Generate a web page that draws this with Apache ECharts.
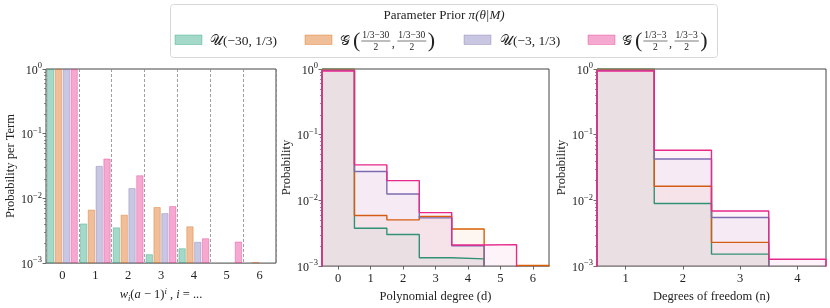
<!DOCTYPE html>
<html><head><meta charset="utf-8">
<script src="https://cdn.jsdelivr.net/npm/echarts@6/dist/echarts.min.js"></script>
<style>html,body{margin:0;padding:0;background:#fff}#c{width:830px;height:308px}</style>
</head><body><div id="c"></div>
<script>
// ---------- data ----------
const termCats = ['0', '1', '2', '3', '4', '5', '6'];
// Panel 1: probability per term (null = below 1e-3 / not shown)
const termU30 = [0.98, 0.00403, 0.00351, 0.00135, 0.00167, null, null];
const termG30 = [0.98, 0.0066, 0.0055, 0.00723, 0.00364, null, 0.00102];
const termU3  = [0.98, 0.0313, 0.0142, 0.00582, 0.0021, null, null];
const termG3  = [0.98, 0.0406, 0.0224, 0.00748, 0.00238, 0.00212, null];
// Panel 2: polynomial degree d = 0..6 (0 = empty bin)
const degValues = [0, 1, 2, 3, 4, 5, 6];
const degU30 = [0.99, 0.00376, 0.00302, 0.00134, 0.00129, 0, 0];
const degG30 = [0.985, 0.00588, 0.00506, 0.00568, 0.00367, 0, 0.00102];
const degU3  = [0.955, 0.0275, 0.0125, 0.00542, 0.00204, 0, 0];
const degG3  = [0.93, 0.0347, 0.0200, 0.00652, 0.0021, 0.00212, 0];
// Panel 3: degrees of freedom n = 1..4
const dofValues = [1, 2, 3, 4];
const dofU30 = [0.99, 0.00897, 0.00152, 0];
const dofG30 = [0.985, 0.0164, 0.0023, 0];
const dofU3  = [0.955, 0.0426, 0.0055, 0];
const dofG3  = [0.93, 0.058, 0.0069, 0.00127];
// y minor ticks
const yMinor = [0.002,0.003,0.004,0.005,0.006,0.007,0.008,0.009,0.02,0.03,0.04,0.05,0.06,0.07,0.08,0.09,0.2,0.3,0.4,0.5,0.6,0.7,0.8,0.9];
const priorLabels = ['U(-30,1/3)', 'G(30)', 'U(-3,1/3)', 'G(3)'];

// ---------- style ----------
const COLORS = ['#1b9e77', '#d95f02', '#7570b3', '#e7298a'];
const FONT = 'Liberation Serif';
const Y_MIN = 0.001, Y_MAX = 1;
const FLOOR = 1e-6; // stand-in for empty bins on the log axis (clipped)
function rgba(hex, a) {
  const n = parseInt(hex.slice(1), 16);
  return 'rgba(' + (n >> 16) + ',' + ((n >> 8) & 255) + ',' + (n & 255) + ',' + a + ')';
}
const grids = [
  { left: 46, top: 69, width: 230, height: 202 },
  { left: 322, top: 69, width: 227, height: 202 },
  { left: 597, top: 69, width: 229, height: 202 }
];
function logLabel(v) {
  const e = Math.round(Math.log10(v));
  return '{b|10}{s|' + (e < 0 ? '\u2212' + (-e) : e) + '}';
}
const yRich = {
  b: { fontSize: 12, fontFamily: FONT, color: '#222', lineHeight: 15, verticalAlign: 'bottom' },
  s: { fontSize: 8.5, fontFamily: FONT, color: '#222', lineHeight: 9, verticalAlign: 'top' }
};
const nameStyle = { fontSize: 12.5, fontFamily: FONT, color: '#222' };

const yAxes = [], xAxes = [];
const yNames = ['Probability per Term', 'Probability', 'Probability'];
for (let g = 0; g < 3; g++) {
  yAxes.push({
    gridIndex: g, type: 'log', logBase: 10, min: Y_MIN, max: Y_MAX, position: 'left',
    name: yNames[g], nameLocation: 'middle', nameGap: 29, nameTextStyle: nameStyle,
    axisLine: { show: false, onZero: false }, splitLine: { show: false },
    axisTick: { show: true, length: 3.5, lineStyle: { color: '#444', width: 0.8 } },
    axisLabel: { margin: 4, formatter: logLabel, rich: yRich }
  });
  yAxes.push({
    gridIndex: g, type: 'log', logBase: 10, min: Y_MIN, max: Y_MAX, position: 'left',
    axisLine: { show: false, onZero: false }, splitLine: { show: false }, axisLabel: { show: false },
    axisTick: { show: true, length: 2, lineStyle: { color: '#444', width: 0.6 }, customValues: yMinor }
  });
}
const xLabelStyle = { fontSize: 12.5, fontFamily: FONT, color: '#222', margin: 6 };
xAxes.push({
  gridIndex: 0, type: 'category', data: termCats, boundaryGap: true,
  axisLine: { show: false, onZero: false },
  axisTick: { alignWithLabel: true, length: 3.5, lineStyle: { color: '#444', width: 0.8 } },
  axisLabel: xLabelStyle,
  splitLine: { show: true, interval: 0, lineStyle: { color: '#888', type: [3, 2], width: 0.8 } },
  name: '{i|w}{sb|i}{n|(}{i|a}{n| \u2212 1)}{sp|i}{n| , }{i|i}{n| = ...}',
  nameLocation: 'middle', nameGap: 21,
  nameTextStyle: {
    rich: {
      i: { fontSize: 12.5, fontFamily: FONT, fontStyle: 'italic', color: '#222', lineHeight: 16, verticalAlign: 'middle' },
      n: { fontSize: 12.5, fontFamily: FONT, color: '#222', lineHeight: 16, verticalAlign: 'middle' },
      sb: { fontSize: 8.5, fontFamily: FONT, fontStyle: 'italic', color: '#222', lineHeight: 8, verticalAlign: 'bottom' },
      sp: { fontSize: 8.5, fontFamily: FONT, fontStyle: 'italic', color: '#222', lineHeight: 8, verticalAlign: 'top' }
    }
  }
});
xAxes.push({
  gridIndex: 1, type: 'value', min: degValues[0] - 0.5, max: degValues[degValues.length - 1] + 0.5,
  axisLine: { show: false, onZero: false }, splitLine: { show: false },
  axisTick: { length: 3.5, lineStyle: { color: '#444', width: 0.8 }, customValues: degValues },
  axisLabel: Object.assign({ customValues: degValues }, xLabelStyle),
  name: 'Polynomial degree (d)', nameLocation: 'middle', nameGap: 21, nameTextStyle: nameStyle
});
xAxes.push({
  gridIndex: 2, type: 'value', min: dofValues[0] - 0.5, max: dofValues[dofValues.length - 1] + 0.5,
  axisLine: { show: false, onZero: false }, splitLine: { show: false },
  axisTick: { length: 3.5, lineStyle: { color: '#444', width: 0.8 }, customValues: dofValues },
  axisLabel: Object.assign({ customValues: dofValues }, xLabelStyle),
  name: 'Degrees of freedom (n)', nameLocation: 'middle', nameGap: 21, nameTextStyle: nameStyle
});

// ---------- series ----------
const series = [];
const termSets = [termU30, termG30, termU3, termG3];
termSets.forEach(function (arr, si) {
  const data = [];
  arr.forEach(function (v, i) { if (v != null) data.push([i, v]); });
  series.push({
    type: 'custom', name: priorLabels[si], xAxisIndex: 0, yAxisIndex: 0, clip: true,
    encode: { x: 0, y: 1 }, data: data,
    renderItem: function (params, api) {
      const band = api.size([1, 0])[0];
      const bw = band * 0.194, step = band * 0.238;
      const top = api.coord([api.value(0), api.value(1)]);
      const base = api.coord([api.value(0), Y_MIN])[1];
      const x = top[0] + (si - 1.5) * step - bw / 2;
      return {
        type: 'rect',
        shape: { x: x, y: top[1], width: bw, height: base - top[1] },
        style: { fill: rgba(COLORS[si], 0.4), stroke: rgba(COLORS[si], 0.45), lineWidth: 0.8 }
      };
    }
  });
});
function stepData(centers, vals) {
  const lo = centers[0] - 0.5;
  const pts = [[lo, FLOOR]];
  vals.forEach(function (v, i) { pts.push([centers[i] - 0.5, v > 0 ? v : FLOOR]); });
  const last = vals[vals.length - 1];
  const hi = centers[centers.length - 1] + 0.5;
  pts.push([hi, last > 0 ? last : FLOOR]);
  pts.push([hi, FLOOR]);
  return pts;
}
function addSteps(gi, centers, sets) {
  sets.forEach(function (vals, si) {
    series.push({
      type: 'line', name: priorLabels[si], xAxisIndex: gi, yAxisIndex: gi * 2, step: 'end',
      data: stepData(centers, vals), symbol: 'none', clip: true, animation: false,
      lineStyle: { color: COLORS[si], width: 1.4 },
      areaStyle: { color: rgba(COLORS[si], 0.08), origin: 'start' },
      z: 2 + si
    });
  });
}
addSteps(1, degValues, [degU30, degG30, degU3, degG3]);
addSteps(2, dofValues, [dofU30, dofG30, dofU3, dofG3]);

// ---------- legend (drawn as graphic) ----------
const cv = document.createElement('canvas').getContext('2d');
function tw(t, size, italic) { cv.font = (italic ? 'italic ' : '') + size + 'px "' + FONT + '"'; return cv.measureText(t).width; }
function txt(t, x, y, size, extra) {
  return { type: 'text', x: x, y: y, style: Object.assign({ text: t, fontSize: size, fontFamily: FONT, fill: '#222', align: 'left', verticalAlign: 'middle' }, extra || {}) };
}
const LY = 41;
const legendEls = [
  { type: 'rect', shape: { x: 170.5, y: 4.5, width: 547, height: 53, r: 3 }, style: { fill: '#fff', stroke: '#d8d8d8', lineWidth: 1 } },
  {
    type: 'text', x: 444, y: 16,
    style: {
      text: '{n|Parameter Prior }{i|\u03c0(\u03b8|M)}', align: 'center', verticalAlign: 'middle',
      rich: { n: { fontSize: 13, fontFamily: FONT, fill: '#222' }, i: { fontSize: 13, fontFamily: FONT, fontStyle: 'italic', fill: '#222' } }
    }
  }
];
const patchX = [175, 305, 464, 588];
patchX.forEach(function (px, i) {
  legendEls.push({ type: 'rect', shape: { x: px, y: 35, width: 27, height: 9.5 }, style: { fill: rgba(COLORS[i], 0.4), stroke: rgba(COLORS[i], 0.45), lineWidth: 0.8 } });
});
function uLabel(x, a) {
  legendEls.push({
    type: 'text', x: x, y: LY,
    style: {
      text: '{c|\ud835\udcb0}{n|(\u2212' + a + ', 1/3)}', align: 'left', verticalAlign: 'middle',
      rich: { c: { fontSize: 13.5, fontFamily: FONT, fill: '#222' }, n: { fontSize: 13.5, fontFamily: FONT, fill: '#222' } }
    }
  });
}
function gLabel(x0, num, fs) {
  let x = x0;
  legendEls.push(txt('\ud835\udca2', x, LY, 13.5)); x += tw('\ud835\udca2', 13.5) + 3;
  legendEls.push(txt('(', x, LY, 22)); x += tw('(', 22) + 1;
  const fw = tw(num, fs) + 2;
  for (let k = 0; k < 2; k++) {
    legendEls.push(txt(num, x + fw / 2, LY - 6, fs, { align: 'center' }));
    legendEls.push({ type: 'line', shape: { x1: x, y1: LY, x2: x + fw, y2: LY }, style: { stroke: '#222', lineWidth: 0.6 } });
    legendEls.push(txt('2', x + fw / 2, LY + 6, fs, { align: 'center' }));
    x += fw;
    if (k === 0) { legendEls.push(txt(',', x + 1.5, LY + 3, 12)); x += tw(',', 12) + 4; }
  }
  legendEls.push(txt(')', x + 1.5, LY, 22));
}
uLabel(210, '30');
gLabel(340, '1/3\u221230', 9.5);
uLabel(500, '3');
gLabel(622, '1/3\u22123', 9.5);

const chart = echarts.init(document.getElementById('c'), null, { renderer: 'canvas' });
chart.setOption({
  animation: false,
  grid: grids.map(function (g) { return Object.assign({ show: true, borderColor: '#444', borderWidth: 1, backgroundColor: 'transparent' }, g); }),
  xAxis: xAxes,
  yAxis: yAxes,
  series: series,
  graphic: legendEls
});
</script>
</body></html>
